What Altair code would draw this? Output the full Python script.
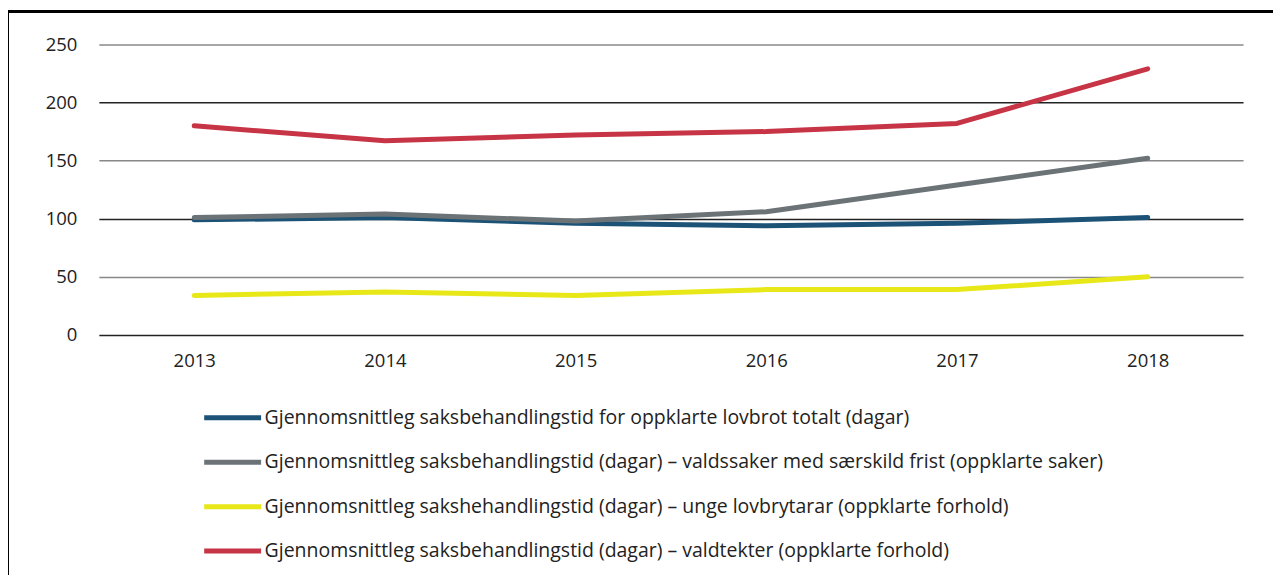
import altair as alt
import pandas as pd

years = ["2013", "2014", "2015", "2016", "2017", "2018"]
series = [
    "Gjennomsnittleg saksbehandlingstid for oppklarte lovbrot totalt (dagar)",
    "Gjennomsnittleg saksbehandlingstid (dagar) – valdssaker med særskild frist (oppklarte saker)",
    "Gjennomsnittleg sakshehandlingstid (dagar) – unge lovbrytarar (oppklarte forhold)",
    "Gjennomsnittleg saksbehandlingstid (dagar) – valdtekter (oppklarte forhold)",
]
totalt = [99, 101, 96, 94, 96, 101]
valdssaker = [101, 104, 98, 106, 129, 152]
unge = [34, 37, 34, 39, 39, 50]
valdtekter = [180, 167, 172, 175, 182, 229]
colors = ["#1b5275", "#6b7377", "#e8e818", "#c73445"]

rows = []
for name, vals in zip(series, [totalt, valdssaker, unge, valdtekter]):
    for y, v in zip(years, vals):
        rows.append({"year": y, "series": name, "value": v})
df = pd.DataFrame(rows)

FONT = "Open Sans"

lines = alt.Chart(df).mark_line(strokeWidth=5, strokeCap="round", strokeJoin="round").encode(
    x=alt.X("year:O", scale=alt.Scale(type="point", padding=0.5), sort=years,
            axis=alt.Axis(title=None, labelAngle=0, ticks=False, domain=False, grid=False,
                          labelPadding=17, labelFontSize=18.5, labelFont=FONT, labelColor="#222")),
    y=alt.Y("value:Q", scale=alt.Scale(domain=[0, 250], nice=False),
            axis=alt.Axis(title=None, values=[0, 50, 100, 150, 200, 250], ticks=False, domain=False,
                          labelPadding=22, labelFontSize=18.5, labelFont=FONT, labelColor="#222",
                          gridColor={"condition": {"test": "datum.value % 100 === 0", "value": "#222"},
                                     "value": "#888"},
                          gridWidth=1.5)),
    color=alt.Color("series:N", scale=alt.Scale(domain=series, range=colors), sort=series,
                    legend=alt.Legend(title=None, orient="none", legendX=103, legendY=343,
                                      direction="vertical", symbolType="stroke",
                                      symbolSize=3249, symbolStrokeWidth=5,
                                      labelFontSize=19.5, labelFont=FONT, labelColor="#222",
                                      labelOffset=1, rowPadding=3.5, labelLimit=1100)),
)

border_left = alt.Chart(df).mark_rule(color="black", strokeWidth=3).encode(
    x=alt.value(-92), y=alt.value(-34), y2=alt.value(560))
border_top = alt.Chart(df).mark_rule(color="black", strokeWidth=3).encode(
    x=alt.value(-92), x2=alt.value(1190), y=alt.value(-33))

chart = alt.layer(lines, border_left, border_top).properties(
    width=1146, height=291,
    autosize=alt.AutoSizeParams(type="none"),
    padding={"left": 91, "top": 36, "right": 30, "bottom": 240},
).configure_view(stroke=None)

chart.save("out.html", embed_options={"renderer": "svg", "actions": False})
